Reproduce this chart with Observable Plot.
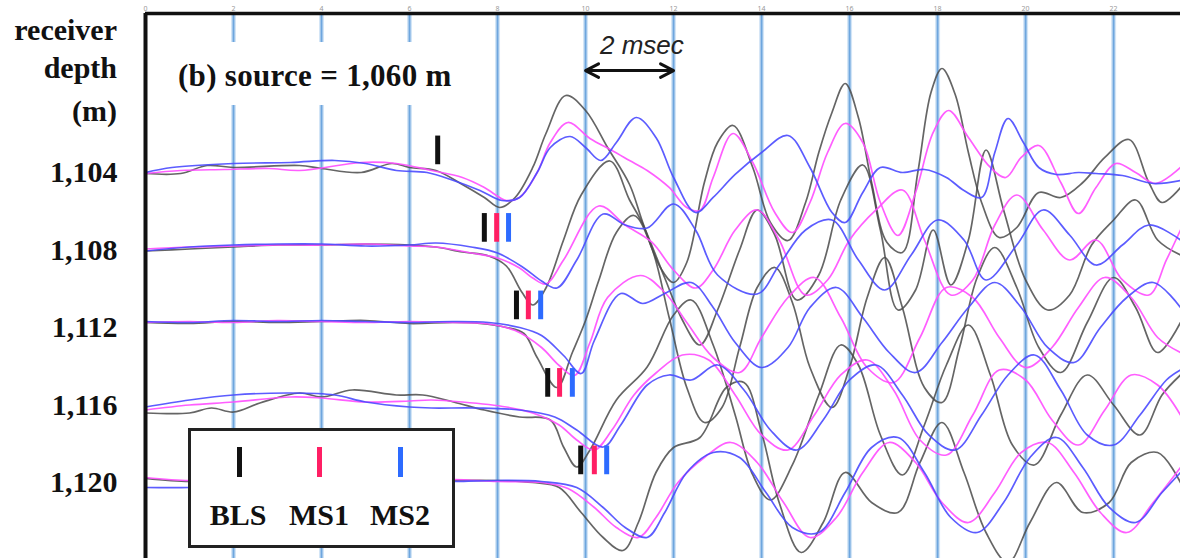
<!DOCTYPE html>
<html><head><meta charset="utf-8">
<script src="https://cdn.jsdelivr.net/npm/d3@7"></script>
<script src="https://cdn.jsdelivr.net/npm/@observablehq/plot@0.6"></script>
<style>
body{margin:0;background:#fff;}
#wrap{position:relative;width:1180px;height:558px;overflow:hidden;background:#fff;}
#wrap svg{display:block;}
.lab{position:absolute;font-family:"Liberation Serif","Times New Roman",serif;font-weight:bold;font-size:30px;line-height:1;color:#111;white-space:nowrap;}
</style></head><body>
<div id="wrap"></div>
<script>
// ---------- data ----------
const depths = [1104, 1108, 1112, 1116, 1120];          // receiver depth (m)
const seriesNames = ["BLS", "MS1", "MS2"];
const timeTicks = [0, 2, 4, 6, 8, 10, 12, 14, 16, 18, 20, 22]; // ms
const gridTimes = [2, 4, 6, 8, 10, 12, 14, 16, 18, 20, 22];
const sourceLabel = "(b) source = 1,060 m";
const axisTitle = ["receiver", "depth", "(m)"];

// traces: [time (ms), amplitude (positive up)]
const bls1104 = [[0,-1],[0.8,-1],[1.4,7],[2,5],[3.5,7],[4,4],[4.9,0],[5.6,9],[6.0,5],[6.6,2],[7.2,-12],[7.7,-25],[8.05,-35],[8.4,-25],[8.8,5],[9.1,39],[9.55,77],[10.0,62],[10.5,25],[11.0,-12],[11.3,-50],[11.7,-95],[12.0,-110],[12.3,-90],[12.7,-10],[13.0,30],[13.35,47],[13.8,5],[14.2,-50],[14.6,-68],[15.0,-30],[15.3,20],[15.6,60],[15.9,89],[16.2,55],[16.5,-10],[16.85,-70],[17.2,-80],[17.55,0],[17.85,80],[18.1,104],[18.4,78],[18.7,20],[19.0,-30],[19.4,-65],[19.8,-55],[20.3,-20],[20.8,-25],[21.3,-10],[21.8,15],[22.35,33],[22.8,-10],[23.1,-30],[23.52,-15]];
const ms11104 = [[0,-1],[0.8,2],[1.8,3],[2.8,4],[3.5,2],[4.9,10],[5.7,9],[6.5,2],[7.2,-5],[7.7,-15],[8.2,-28],[8.5,-25],[8.9,0],[9.2,30],[9.6,50],[10.1,34],[10.6,22],[11.0,12],[11.4,2],[11.9,-15],[12.3,-35],[12.6,-38],[12.9,-5],[13.35,39],[13.8,10],[14.3,-40],[14.7,-60],[15.1,-30],[15.5,20],[15.9,49],[16.3,30],[16.7,-30],[17.1,-63],[17.5,-20],[17.9,40],[18.25,62],[18.7,35],[19.2,5],[19.55,-5],[19.9,15],[20.3,27],[20.8,-10],[21.2,-41],[21.6,-15],[22.05,9],[22.5,0],[22.95,-11],[23.52,5]];
const ms21104 = [[0,0],[0.6,5],[2,9],[3.3,10],[4.3,12],[5,9],[5.7,2],[6.4,0],[7,-8],[7.6,-18],[8.1,-28],[8.5,-25],[8.9,0],[9.2,25],[9.65,36],[10.0,25],[10.35,12],[10.7,30],[11.15,55],[11.6,35],[12.0,-5],[12.5,-40],[12.9,-25],[13.4,-2],[14.0,20],[14.6,37],[15.1,5],[15.6,-40],[15.9,-50],[16.3,-20],[16.7,5],[17.2,0],[17.7,3],[18.2,-5],[18.6,-18],[19.0,-25],[19.3,20],[19.6,54],[19.95,30],[20.3,5],[20.7,-2],[21.2,0],[21.6,-1],[22.2,-3],[22.9,-11],[23.52,-8]];

const bls1108 = [[0,-1],[1,1],[2,3],[3,5],[4,5],[5,6],[6,5],[6.6,3],[7.2,-2],[7.8,-6],[8.2,-16],[8.55,-42],[8.8,-55],[9.1,-38],[9.5,10],[9.9,55],[10.55,89],[11.0,50],[11.3,26],[11.8,-28],[12.2,-70],[12.6,-95],[13.0,-60],[13.5,0],[13.9,40],[14.3,15],[14.8,-50],[15.3,-25],[15.8,50],[16.3,85],[16.7,20],[17.1,-60],[17.5,-40],[17.9,20],[18.3,-35],[18.7,10],[19.1,100],[19.5,40],[20.0,-30],[20.5,-60],[21.0,-45],[21.5,5],[22.0,30],[22.5,50],[23.0,10],[23.52,-5]];
const ms11108 = [[0,1],[1,3],[2,4],[3,5],[4,5],[5,6],[6,4],[6.6,3],[7.4,-3],[8.0,-8],[8.5,-18],[8.8,-28],[9.1,-34],[9.5,-10],[10.3,44],[10.9,25],[11.5,8],[12.0,-20],[12.5,-38],[12.9,-20],[13.4,20],[13.9,40],[14.4,10],[15.0,-45],[15.5,-30],[16.0,10],[16.6,40],[17.2,60],[17.7,10],[18.3,-45],[18.8,-30],[19.3,25],[19.8,55],[20.4,20],[21.0,-10],[21.6,10],[22.2,-30],[22.8,-45],[23.2,-10],[23.52,20]];
const ms21108 = [[0,-1],[1,3],[2,5],[3,6],[4,6],[5,4],[6,5],[6.6,7],[7.4,3],[8.0,-3],[8.6,-18],[9.0,-31],[9.35,-38],[9.8,-10],[10.4,36],[10.9,25],[11.4,22],[12.0,46],[12.5,20],[13.0,-25],[13.9,-44],[14.4,-15],[15.0,20],[15.6,30],[16.2,-10],[16.8,-40],[17.4,-5],[18.0,30],[18.6,10],[19.1,-30],[19.8,5],[20.4,40],[21.0,15],[21.6,-15],[22.2,5],[22.8,25],[23.52,10]];

const bls1112 = [[0,5],[1,4],[2,6],[3,5],[4,6],[5,7],[6,4],[7,5],[7.6,4],[8.2,0],[8.6,-6],[8.9,-30],[9.35,-60],[9.7,-25],[10.0,7],[10.3,47],[10.7,95],[11.1,112],[11.5,80],[11.9,10],[12.3,-60],[12.7,-95],[13.1,-80],[13.5,-20],[13.9,40],[14.3,60],[14.7,25],[15.1,-40],[15.6,-80],[16.0,-40],[16.4,30],[16.8,70],[17.2,20],[17.7,-60],[18.1,-75],[18.5,-20],[18.9,50],[19.3,80],[19.8,40],[20.3,-20],[20.8,-45],[21.4,5],[22.0,50],[22.5,20],[23.0,-25],[23.52,5]];
const ms11112 = [[0,5],[1,6],[2,5],[3,7],[4,6],[5,5],[6,6],[7,5],[7.7,4],[8.4,-3],[9.0,-20],[9.4,-38],[9.75,-48],[10.1,-15],[10.5,30],[11.25,52],[11.8,35],[12.3,5],[12.9,-30],[13.5,-45],[14.0,-10],[14.6,30],[15.2,50],[15.8,10],[16.4,-40],[17.0,-55],[17.6,-10],[18.2,40],[18.8,30],[19.4,-10],[20.0,-40],[20.6,-20],[21.2,20],[21.8,50],[22.4,30],[23.0,-10],[23.52,-25]];
const ms21112 = [[0,6],[1,5],[2,7],[3,6],[4,7],[5,6],[6,5],[7,6],[7.8,5],[8.5,0],[9.0,-8],[9.5,-28],[9.9,-46],[10.2,-13],[10.8,34],[11.3,24],[11.8,34],[12.4,45],[12.9,20],[13.4,-15],[14.0,-40],[14.6,-20],[15.1,20],[15.7,40],[16.3,10],[16.9,-25],[17.5,-45],[18.1,-15],[18.7,20],[19.3,45],[19.9,20],[20.5,-20],[21.1,-35],[21.7,0],[22.3,30],[22.9,45],[23.52,20]];

const bls1116 = [[0,-8],[1,-8],[1.5,-3],[2,-7],[2.6,2],[3.5,12],[4,8],[4.7,15],[5.7,10],[6.3,10],[7.0,3],[7.7,-5],[8.5,-12],[9.2,-15],[9.5,-42],[9.8,-62],[10.1,-45],[10.7,5],[11.4,38],[12.0,90],[12.4,105],[12.9,60],[13.4,-10],[13.8,-70],[14.2,-95],[14.7,-60],[15.3,10],[15.8,60],[16.2,40],[16.7,-30],[17.2,-70],[17.7,-20],[18.2,40],[18.7,80],[19.2,30],[19.7,-40],[20.2,-60],[20.8,-10],[21.4,30],[22.0,0],[22.6,-30],[23.1,10],[23.52,30]];
const ms11116 = [[0,-5],[1,0],[2,3],[3.3,8],[4,7],[5,3],[6,4],[6.5,5],[7.2,3],[8.2,-2],[8.8,-8],[9.4,-20],[9.8,-35],[10.2,-45],[10.6,-25],[11.1,10],[11.6,32],[12.2,50],[12.8,45],[13.4,10],[14.0,-30],[14.6,-45],[15.2,-10],[15.8,30],[16.4,45],[17.0,15],[17.6,-35],[18.2,-50],[18.8,-10],[19.4,35],[20.0,25],[20.6,-15],[21.2,-40],[21.8,-5],[22.4,30],[23.0,20],[23.52,-10]];
const ms21116 = [[0,-2],[1,5],[2,10],[3.3,12],[4.3,10],[5,3],[6,-2],[6.5,-3],[7.5,-3],[8.5,-5],[9.3,-12],[9.8,-25],[10.4,-42],[10.8,-20],[11.4,20],[11.9,30],[12.4,25],[13.0,40],[13.6,15],[14.2,-25],[14.8,-45],[15.4,-15],[16.0,25],[16.6,40],[17.2,10],[17.8,-30],[18.4,-45],[19.0,-10],[19.6,30],[20.2,50],[20.8,15],[21.4,-30],[22.0,-40],[22.6,-10],[23.2,25],[23.52,35]];

const bls1120 = [[0,4],[1,1],[2,3],[3,2],[4,3],[5,2],[6,1],[7,2],[8,2],[8.8,0],[9.4,-5],[9.9,-30],[10.4,-55],[10.85,-68],[11.2,-40],[11.6,10],[12.0,35],[12.6,45],[13.2,95],[13.6,100],[14.0,50],[14.4,-20],[14.9,-70],[15.4,-40],[15.9,10],[16.5,-20],[17.1,-30],[17.6,20],[18.1,60],[18.6,10],[19.1,-50],[19.6,-80],[20.1,-40],[20.7,0],[21.3,-30],[21.9,-20],[22.4,20],[23.0,30],[23.52,0]];
const ms11120 = [[0,5],[1,2],[2,4],[3,3],[4,2],[5,3],[6,2],[7,3],[8,1],[9,0],[9.6,-6],[10.2,-25],[10.7,-45],[11.2,-55],[11.6,-35],[12.1,0],[12.7,25],[13.3,40],[13.9,20],[14.5,-20],[15.1,-55],[15.7,-35],[16.3,10],[16.9,40],[17.5,20],[18.1,-20],[18.7,-40],[19.3,-10],[19.9,30],[20.5,40],[21.1,10],[21.7,-30],[22.3,-50],[22.9,-20],[23.52,15]];
const ms21120 = [[0,-5],[1,-5],[2,-3],[3,-2],[4,-2],[5,-1],[6,0],[7,1],[8,2],[9,1],[9.8,-5],[10.4,-25],[10.9,-45],[11.4,-55],[11.8,-30],[12.3,10],[12.9,30],[13.5,25],[14.1,-10],[14.7,-45],[15.3,-50],[15.9,-10],[16.5,35],[17.1,45],[17.7,10],[18.3,-35],[18.9,-50],[19.5,-20],[20.1,25],[20.7,45],[21.3,15],[21.9,-25],[22.5,-40],[23.1,-10],[23.52,10]];

// first-arrival picks (ms) per receiver
const pickDepths = [1100, 1104, 1108, 1112, 1116];
const pickBLS = [6.64, 7.70, 8.43, 9.14, 9.89];
const pickMS1 = [null, 7.98, 8.70, 9.41, 10.20];
const pickMS2 = [null, 8.25, 8.98, 9.70, 10.48];

// 2 msec scale bar
const scaleBar = [{t1: 10, t2: 12, depth: 1098.74, label: "2 msec"}];

// ---------- build ----------
const traceTable = [
  ["BLS",1104,bls1104],["MS1",1104,ms11104],["MS2",1104,ms21104],
  ["BLS",1108,bls1108],["MS1",1108,ms11108],["MS2",1108,ms21108],
  ["BLS",1112,bls1112],["MS1",1112,ms11112],["MS2",1112,ms21112],
  ["BLS",1116,bls1116],["MS1",1116,ms11116],["MS2",1116,ms21116],
  ["BLS",1120,bls1120],["MS1",1120,ms11120],["MS2",1120,ms21120]
];
const gain = 1 / 19.375; // metres of depth axis per amplitude unit
const rows = traceTable.flatMap(([s, d, pts]) =>
  pts.map(([t, a]) => ({series: s, depth: d, key: s + d, t, y: d - a * gain})));

const picks = [];
[["BLS", pickBLS], ["MS1", pickMS1], ["MS2", pickMS2]].forEach(([s, arr]) =>
  arr.forEach((t, i) => { if (t != null) picks.push({series: s, depth: pickDepths[i], t}); }));

const lineColor = {BLS: "#4a4a4a", MS1: "#ff4dff", MS2: "#4a4aff"};
const pickColor = {BLS: "#111111", MS1: "#ff1f64", MS2: "#2d6bff"};

const yTop = 1095.794, yBottom = 1123.923;

const lineMark = s => Plot.line(rows.filter(r => r.series === s), {
  x: "t", y: "y", z: "key", stroke: lineColor[s], strokeWidth: 1.7,
  strokeOpacity: s === "BLS" ? 0.85 : 0.9, curve: "catmull-rom", clip: true
});

const chart = Plot.plot({
  width: 1180, height: 558,
  marginLeft: 145, marginRight: 0, marginTop: 13, marginBottom: 0,
  style: {background: "transparent"},
  x: {domain: [0, 23.52]},
  y: {domain: [yTop, yBottom], reverse: true},
  marks: [
    Plot.ruleX(gridTimes, {stroke: "#d3e5f6", strokeWidth: 5}),
    Plot.ruleX(gridTimes, {stroke: "#6ea6de", strokeWidth: 2}),
    lineMark("BLS"),
    lineMark("MS1"),
    lineMark("MS2"),
    Plot.ruleX(picks, {x: "t", y1: d => d.depth + 2.12, y2: d => d.depth + 3.6,
      stroke: d => pickColor[d.series], strokeWidth: 5}),
    Plot.arrow(scaleBar, {x1: d => (d.t1 + d.t2) / 2, x2: "t1", y1: "depth", y2: "depth",
      stroke: "#111", strokeWidth: 3, headLength: 13, headAngle: 55}),
    Plot.arrow(scaleBar, {x1: d => (d.t1 + d.t2) / 2, x2: "t2", y1: "depth", y2: "depth",
      stroke: "#111", strokeWidth: 3, headLength: 13, headAngle: 55}),
    Plot.text(scaleBar, {x: d => (d.t1 + d.t2) / 2 + 0.28, y: d => d.depth - 1.3, text: "label",
      fontSize: 26, fontStyle: "italic", fontFamily: "Liberation Sans, Arial, sans-serif", fill: "#222"}),
    Plot.ruleY([yTop], {stroke: "#111", strokeWidth: 3.5}),
    Plot.ruleX([0], {stroke: "#111", strokeWidth: 4}),
    Plot.axisY({ticks: depths, tickFormat: d3.format(","), tickSize: 0, tickPadding: 28, label: null,
      fontSize: 30, fontWeight: "bold", fontFamily: "Liberation Serif, serif", fill: "#111"}),
    Plot.axisX({anchor: "top", ticks: timeTicks, tickSize: 0, tickPadding: 3, label: null,
      fontSize: 7, fill: "#999"})
  ]
});

const wrap = document.getElementById("wrap");
wrap.appendChild(chart);

// axis title (right aligned at the depth labels)
const titleTops = [15, 53, 96];
axisTitle.forEach((txt, i) => {
  const el = document.createElement("div");
  el.className = "lab";
  el.textContent = txt;
  el.style.right = (1180 - 117) + "px";
  el.style.top = titleTops[i] + "px";
  wrap.appendChild(el);
});

// source label on white box
const box = document.createElement("div");
box.style.cssText = "position:absolute;left:170px;top:42px;width:308px;height:63px;background:#fff;";
wrap.appendChild(box);
const src = document.createElement("div");
src.className = "lab";
src.textContent = sourceLabel;
src.style.left = "178px";
src.style.top = "60px";
src.style.fontSize = "31px";
src.style.letterSpacing = "0.3px";
wrap.appendChild(src);

// legend
const leg = document.createElement("div");
leg.style.cssText = "position:absolute;left:188px;top:428px;width:261px;height:114px;border:3px solid #222;background:#fff;";
seriesNames.forEach((s, i) => {
  const cx = 47 + 81 * i;
  const tk = document.createElement("div");
  tk.style.cssText = `position:absolute;left:${cx - 2 + (i === 0 ? 1 : 0)}px;top:16px;width:5px;height:30px;background:${pickColor[s]};`;
  leg.appendChild(tk);
  const lb = document.createElement("div");
  lb.className = "lab";
  lb.textContent = s;
  lb.style.left = (cx - 50) + "px";
  lb.style.width = "100px";
  lb.style.textAlign = "center";
  lb.style.top = "69px";
  leg.appendChild(lb);
});
wrap.appendChild(leg);
</script></body></html>
